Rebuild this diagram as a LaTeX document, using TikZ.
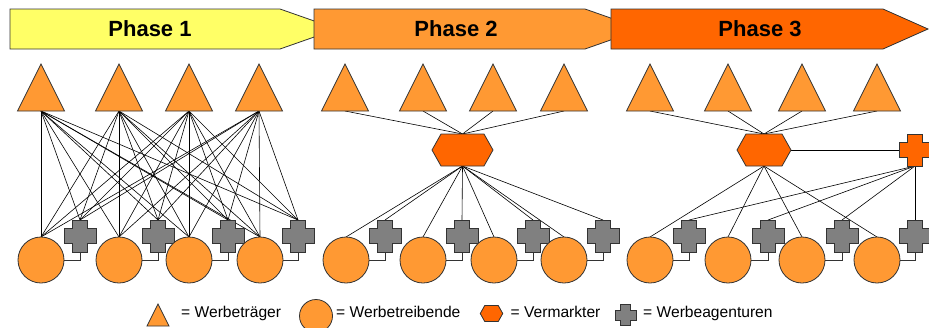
\documentclass[tikz,border=0pt]{standalone}
\usepackage{fontspec}
\setmainfont{Liberation Sans}
\pgfdeclarelayer{back}
\pgfdeclarelayer{bg}
\pgfsetlayers{back,bg,main}
\definecolor{pyellow}{HTML}{FFFF66}
\definecolor{porange}{HTML}{FF9933}
\definecolor{pred}{HTML}{FF6600}
\definecolor{pgray}{HTML}{808080}
\definecolor{outl}{HTML}{333333}
\tikzset{
  shp/.style={draw=outl, line width=0.8pt, line join=miter},
  holder/.style={draw=none, rectangle, inner sep=0pt, outer sep=0pt},
  link/.style={draw=black, line width=0.6pt},
  sidelink/.style={draw=outl, line width=0.7pt},
  circ/.style={circle, shp, fill=porange, inner sep=0pt, outer sep=0pt},
  phasetext/.style={font=\bfseries\fontsize{22}{24}\selectfont, inner sep=0pt},
  legtext/.style={font=\fontsize{15.6}{17}\selectfont, anchor=base west, inner sep=0pt},
}
% triangle: name, x, y, size
\newcommand\Tri[4]{%
  \node[holder, minimum width=#4pt, minimum height=#4pt] (#1) at (#2,#3) {};
  \path[shp, fill=porange] (#1.north) -- (#1.south east) -- (#1.south west) -- cycle;}
% cross: name, x, y, size, notch, colour
\newcommand\Crs[6]{%
  \node[holder, minimum width=#4pt, minimum height=#4pt] (#1) at (#2,#3) {};
  \path[shp, fill=#6] ([xshift=#5pt]#1.north west) -- ([xshift=-#5pt]#1.north east)
    -- ([xshift=-#5pt,yshift=-#5pt]#1.north east) -- ([yshift=-#5pt]#1.north east)
    -- ([yshift=#5pt]#1.south east) -- ([xshift=-#5pt,yshift=#5pt]#1.south east)
    -- ([xshift=-#5pt]#1.south east) -- ([xshift=#5pt]#1.south west)
    -- ([xshift=#5pt,yshift=#5pt]#1.south west) -- ([yshift=#5pt]#1.south west)
    -- ([yshift=-#5pt]#1.north west) -- ([xshift=#5pt,yshift=-#5pt]#1.north west) -- cycle;}
% hexagon: name, x, y, width, height, inset
\newcommand\Hex[6]{%
  \node[holder, minimum width=#4pt, minimum height=#5pt] (#1) at (#2,#3) {};
  \path[shp, fill=pred] (#1.west) -- ([xshift=#6pt]#1.north west) -- ([xshift=-#6pt]#1.north east)
    -- (#1.east) -- ([xshift=-#6pt]#1.south east) -- ([xshift=#6pt]#1.south west) -- cycle;}
% phase arrow: name, x0, body end, tip, colour, text x, text
\newcommand\Phase[7]{%
  \path[shp, fill=#5] (#2,9) -- (#3,9) -- (#4,29) -- (#3,49) -- (#2,49) -- cycle;
  \node[phasetext] (#1) at (#6,29) {#7};}
\begin{document}
\begin{tikzpicture}[x=1pt,y=-1pt]
\clip (0,0) rectangle (929,327);
\begin{pgfonlayer}{back}
  \fill[white] (0,0) rectangle (929,327);
\end{pgfonlayer}
% phase banners
\Phase{ph1}{10}{280}{337}{pyellow}{150}{Phase 1}
\Phase{ph2}{314}{585}{642}{porange}{456}{Phase 2}
\Phase{ph3}{611}{883}{928}{pred}{760}{Phase 3}
% ---------- Phase 1
\Tri{at1}{41}{87.5}{47}\Tri{at2}{119}{87.5}{47}\Tri{at3}{189}{87.5}{47}\Tri{at4}{259}{87.5}{47}
\Crs{ax1}{80}{236}{32}{8.5}{pgray}\Crs{ax2}{158}{236}{32}{8.5}{pgray}
\Crs{ax3}{228}{236}{32}{8.5}{pgray}\Crs{ax4}{298}{236}{32}{8.5}{pgray}
\node[circ, minimum size=46pt] (ac1) at (41,260) {};
\node[circ, minimum size=46pt] (ac2) at (119,260) {};
\node[circ, minimum size=46pt] (ac3) at (189,260) {};
\node[circ, minimum size=46pt] (ac4) at (260,260) {};
% ---------- Phase 2
\Tri{bt1}{345}{87.5}{47}\Tri{bt2}{423}{87.5}{47}\Tri{bt3}{493}{87.5}{47}\Tri{bt4}{564}{87.5}{47}
\Hex{bh}{462.5}{150}{61}{32}{9}
\Crs{bx1}{385}{236}{32}{8.5}{pgray}\Crs{bx2}{462}{236}{32}{8.5}{pgray}
\Crs{bx3}{533}{236}{32}{8.5}{pgray}\Crs{bx4}{603}{236}{32}{8.5}{pgray}
\node[circ, minimum size=46pt] (bc1) at (346,260) {};
\node[circ, minimum size=46pt] (bc2) at (423,260) {};
\node[circ, minimum size=46pt] (bc3) at (494,260) {};
\node[circ, minimum size=46pt] (bc4) at (564,260) {};
% ---------- Phase 3
\Tri{ct1}{650}{87.5}{47}\Tri{ct2}{728}{87.5}{47}\Tri{ct3}{802}{87.5}{47}\Tri{ct4}{877}{87.5}{47}
\Hex{ch}{764}{150}{54}{32}{9}
\Crs{co}{915}{150}{32}{8.5}{pred}
\Crs{cx1}{689}{236}{32}{8.5}{pgray}\Crs{cx2}{768}{236}{32}{8.5}{pgray}
\Crs{cx3}{842}{236}{32}{8.5}{pgray}\Crs{cx4}{915}{236}{32}{8.5}{pgray}
\node[circ, minimum size=46pt] (cc1) at (650,260) {};
\node[circ, minimum size=46pt] (cc2) at (728,260) {};
\node[circ, minimum size=46pt] (cc3) at (802,260) {};
\node[circ, minimum size=46pt] (cc4) at (877,260) {};
% ---------- connectors (behind shapes)
\begin{pgfonlayer}{bg}
  \foreach \t in {1,...,4}{\foreach \b in {1,...,4}{
    \draw[link] (at\t.south) -- (ac\b.north);
    \draw[link] (at\t.south) -- (ax\b.north);}}
  \foreach \t in {1,...,4}{
    \draw[link] (bt\t.south) -- (bh.north);
    \draw[link] (bh.south) -- (bc\t.north);
    \draw[link] (bh.south) -- (bx\t.north);
    \draw[link] (ct\t.south) -- (ch.north);
    \draw[link] (ch.south) -- (cc\t.north);
    \draw[link] (co.south) -- (cx\t.north);}
  \draw[link] (ch.east) -- (co.west);
  \foreach \p in {a,b,c}{\foreach \i in {1,...,4}{
    \draw[sidelink] (\p c\i.east) -| (\p x\i.south);}}
\end{pgfonlayer}
% ---------- legend
\Tri{lt}{158}{315}{22}
\node[legtext] (ltt) at (181,317.5) {= Werbeträger};
\node[circ, minimum size=33pt] (lc) at (316,316) {};
\node[legtext] (lct) at (336,317.5) {= Werbetreibende};
\Hex{lh}{491.5}{313.5}{22.5}{16}{4.5}
\node[legtext] (lht) at (510.5,317.5) {= Vermarkter};
\Crs{lx}{625.5}{315}{21}{5.5}{pgray}
\node[legtext] (lxt) at (643,317.5) {= Werbeagenturen};
\end{tikzpicture}
\end{document}
